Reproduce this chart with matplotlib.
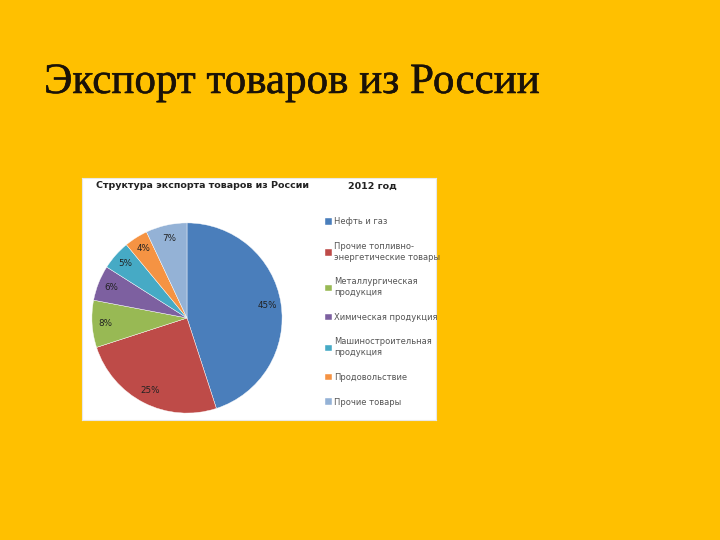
import matplotlib.pyplot as plt
import matplotlib.patheffects as pe

categories = ["Нефть и газ",
              "Прочие топливно-\nэнергетические товары",
              "Металлургическая\nпродукция",
              "Химическая продукция",
              "Машиностроительная\nпродукция",
              "Продовольствие",
              "Прочие товары"]
shares = [45, 25, 8, 6, 5, 4, 7]
colors = ["#4A7EBB", "#BE4B48", "#98B954", "#7D60A0", "#46AAC5", "#F59343", "#94B2D6"]

W, H = 720, 540
fig = plt.figure(figsize=(7.2, 5.4), dpi=100)
fig.patch.set_facecolor("#FFC000")

def fx(px):
    return px / W

def fy(py):
    return 1 - py / H

# white chart area
bg = fig.add_axes([fx(82), fy(420), fx(436) - fx(82), fy(178) - fy(420)], zorder=-1)
bg.set_facecolor("white")
bg.set_xticks([])
bg.set_yticks([])
for s in bg.spines.values():
    s.set_color("#E8E8E8")
    s.set_linewidth(0.8)

fig.text(fx(44), fy(93), "Экспорт товаров из России", fontsize=31,
         family="Liberation Serif", color="#1A1208", va="baseline",
         path_effects=[pe.withStroke(linewidth=0.4, foreground="#1A1208")])

fig.text(fx(96), fy(186), "Структура экспорта товаров из России", fontsize=6.8,
         fontweight="bold", color="#222222", va="center")
fig.text(fx(348), fy(186), "2012 год", fontsize=6.8, fontweight="bold",
         color="#222222", va="center")

ax = fig.add_axes([fx(90), fy(415), fx(284) - fx(90), fy(221) - fy(415)])
wedges, texts = ax.pie(shares, colors=colors, startangle=90, counterclock=False,
                       labels=[f"{v}%" for v in shares], labeldistance=0.86,
                       wedgeprops=dict(edgecolor="white", linewidth=0.3),
                       textprops=dict(fontsize=6.3, color="#222222", ha="center", va="center"))
ax.set_xlim(-1.02, 1.02)
ax.set_ylim(-1.02, 1.02)
ax.set_aspect("equal")
ax.axis("off")

leg = fig.legend(wedges, categories, loc="upper left",
                 bbox_to_anchor=(fx(322), fy(214)), frameon=False,
                 fontsize=6, labelcolor="#555555", handlelength=0.8,
                 handleheight=0.8, handletextpad=0.3, labelspacing=1.9,
                 borderaxespad=0)

fig.savefig("out.png", dpi=100, facecolor=fig.get_facecolor())
